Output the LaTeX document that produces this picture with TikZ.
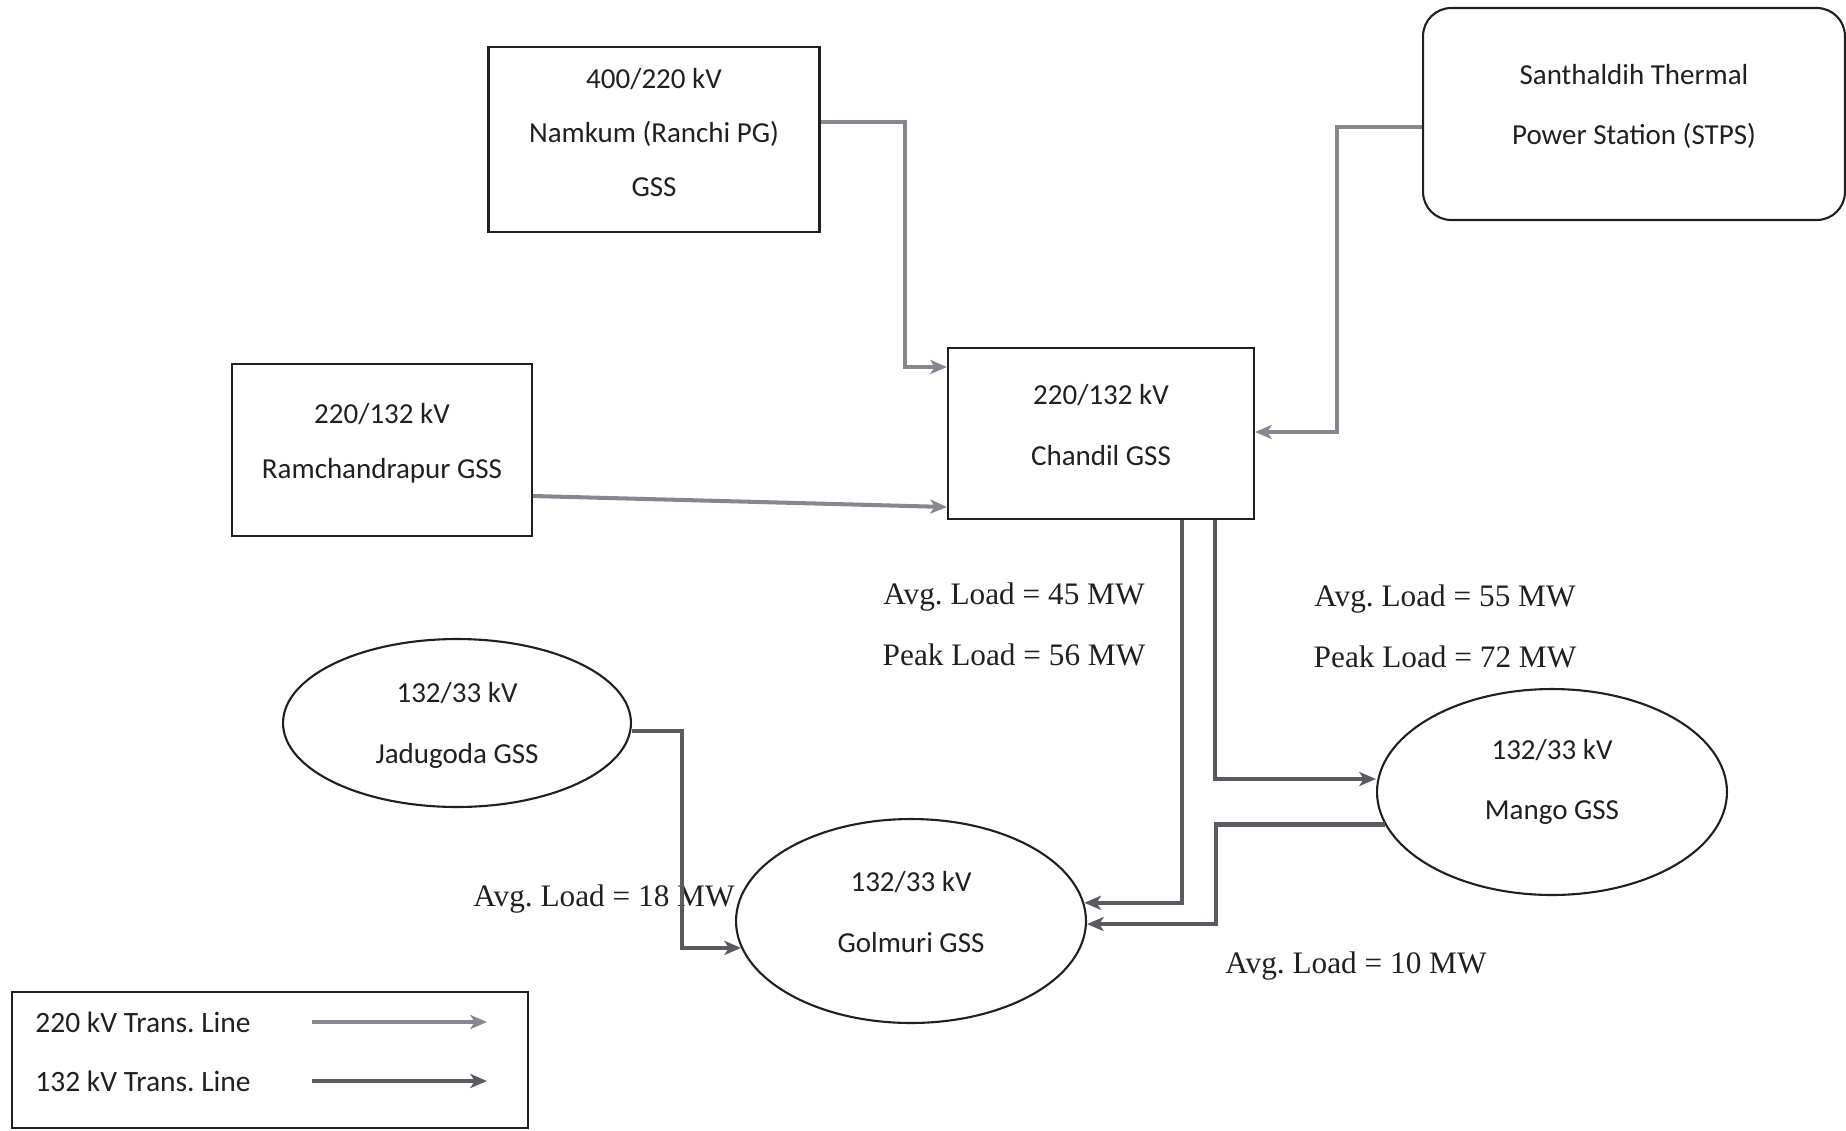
\documentclass[tikz,border=0pt]{standalone}
\usepackage{fontspec}
\setmainfont{Liberation Serif}
\newfontfamily\calibri{Carlito}
\usetikzlibrary{arrows.meta,shapes.geometric}
\definecolor{ink}{HTML}{202020}
\definecolor{hv}{HTML}{8A8690}
\definecolor{mv}{HTML}{5C5A60}
\frenchspacing

\begin{document}
\begin{tikzpicture}[x=0.02cm,y=-0.02cm,text=ink,
    >={Stealth[length=9.5pt,width=8pt,inset=2.5pt]},
    gss/.style={draw=ink,line width=1.2pt,inner sep=0pt,align=center,
      font=\calibri\fontsize{16.5}{34.5}\selectfont},
    oval/.style={gss,ellipse},
    line220/.style={hv,line width=2.3pt,->},
    line132/.style={mv,line width=2.3pt,->},
    load/.style={align=center,font=\fontsize{17.8}{34.6}\selectfont}]
  \useasboundingbox (0,0) rectangle (1846,1130);
  \node[gss,minimum width=6.62cm,minimum height=3.7cm,text depth=8pt,
    font=\calibri\fontsize{16.5}{30.5}\selectfont] (namkum) at (654,139.5)
    {400/220 kV\\Namkum (Ranchi PG)\\GSS};
  \node[gss,rounded corners=16pt,minimum width=8.44cm,minimum height=4.24cm,
    text depth=11pt] (stps) at (1634,114)
    {Santhaldih Thermal\\Power Station (STPS)};
  \node[gss,minimum width=6.12cm,minimum height=3.42cm,text depth=10pt]
    (chandil) at (1101,433.5) {220/132 kV\\Chandil GSS};
  \node[gss,minimum width=6cm,minimum height=3.44cm,text depth=10pt,
    font=\calibri\fontsize{16.5}{31.5}\selectfont] (ram) at (382,450)
    {220/132 kV\\Ramchandrapur GSS};
  \node[oval,minimum width=6.96cm,minimum height=3.36cm,text depth=0pt]
    (jadugoda) at (457,723) {132/33 kV\\Jadugoda GSS};
  \node[oval,minimum width=7cm,minimum height=4.08cm,text depth=10.5pt]
    (golmuri) at (911,921) {132/33 kV\\Golmuri GSS};
  \node[oval,minimum width=7cm,minimum height=4.12cm,text depth=14.5pt]
    (mango) at (1552,792) {132/33 kV\\Mango GSS};

  \node[load] (load45) at (1014,624) {Avg. Load = 45 MW\\Peak Load = 56 MW};
  \node[load] (load55) at (1445,626) {Avg. Load = 55 MW\\Peak Load = 72 MW};
  \node[load] (load18) at (604,899) {Avg. Load = 18 MW};
  \node[load] (load10) at (1356,966) {Avg. Load = 10 MW};

  \draw[line220] (namkum.east |- 0,122) -| (905,367) -- (chandil.west |- 0,367);
  \draw[line220] (stps.west |- 0,127) -| (1337,432) -- (chandil.east |- 0,432);
  \draw[line220] (ram.east |- 0,496) -- (chandil.west |- 0,507);
  \draw[line132] (chandil.south -| 1182,0) |- (golmuri.6);
  \draw[line132] (chandil.south -| 1215,0) |- (mango.west |- 0,779);
  \draw[line132] (mango.191) -| (golmuri.359 -| 1216,0) -- (golmuri.359);
  \draw[line132] (jadugoda.east |- 0,731) -| (golmuri.189 -| 682,0)
    -- (golmuri.189);

  \node[draw=ink,line width=1.2pt,minimum width=10.32cm,minimum height=2.72cm]
    (legend) at (270,1060) {};
  \foreach \kv/\yy in {220/1022,132/1081}{
    \node[anchor=west,inner sep=0pt,font=\calibri\fontsize{16.8}{20}\selectfont]
      (key\kv) at (35,\yy) {\kv{} kV Trans. Line};
    \draw[line\kv] (key\kv.east -| 312,0) -- ++(175,0);
  }
\end{tikzpicture}
\end{document}
